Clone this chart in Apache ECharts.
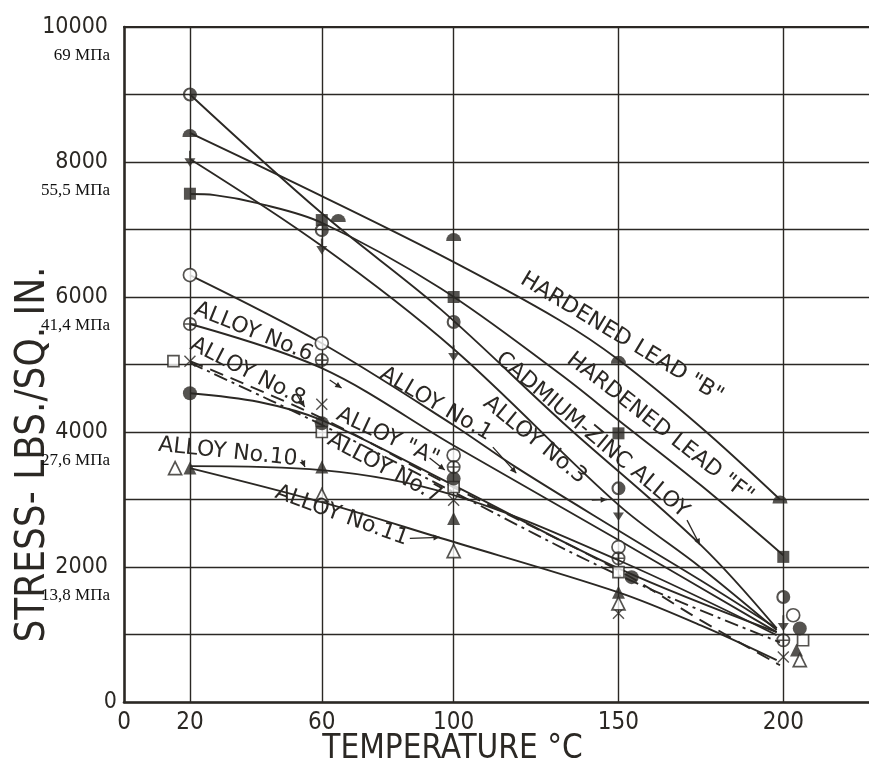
<!DOCTYPE html>
<html>
<head>
<meta charset="utf-8">
<script src="https://cdn.jsdelivr.net/npm/echarts@6/dist/echarts.min.js"></script>
<style>
html,body{margin:0;padding:0;background:#ffffff;}
#chart{width:869px;height:765px;}
</style>
</head>
<body>
<div id="chart"></div>
<script>
// ---------- axis data ----------
const tempLabels = [0, 20, 60, 100, 150, 200];
const tempGrid = [20, 60, 100, 150, 200];
const stressLabels = [0, 2000, 4000, 6000, 8000, 10000];
const mpaLabels = ['', '13,8 МПа', '27,6 МПа', '41,4 МПа', '55,5 МПа', '69 МПа'];

// ---------- measured points (temperature °C, stress psi) ----------
const leadBPts   = [[20,8430],[65,7170],[100,6890],[150,5070],[199,3000]];
const leadFPts   = [[20,7530],[60,7140],[100,6000],[150,3980],[200,2150]];
const cdZnPts    = [[20,9000],[60,6990],[100,5630],[150,3165],[200,1555]];
const alloy3Pts  = [[20,8050],[60,6750],[100,5165],[150,2800],[200,1165]];
const alloy1Pts  = [[20,6325],[60,5315],[100,3655],[150,2295],[203,1285]];
const alloy6Pts  = [[20,5600],[60,5065],[100,3480],[150,2130],[200,915]];
const alloyAPts  = [[15,5050],[60,4000],[100,3185],[150,1925],[206,915]];
const alloy8Pts  = [[20,5050],[60,4410],[100,2990],[150,1315],[200,665]];
const alloy7Pts  = [[20,4575],[60,4130],[100,3310],[154,1850],[205,1090]];
const alloy10Pts = [[20,3465],[60,3480],[100,2720],[150,1625],[204,770]];
const alloy11Pts = [[15.5,3465],[60,3065],[100,2235],[150,1460],[205,620]];

// ---------- fitted curves ----------
const leadBCurve   = [[20,8430],[53,7660],[96,6620],[132,5660],[150,5070],[175,4070],[199,3000]];
const leadFCurve   = [[20,7525],[27.5,7510],[40.5,7390],[60,7100],[96,6130],[132,4870],[150,4175],[175,3210],[200,2175]];
const cdZnCurve    = [[20,9000],[60,7240],[96,5820],[133,4145],[175,2325],[198,1090]];
const alloy3Curve  = [[20,8045],[60,6755],[100,5230],[150,2920],[175,1990],[198,1065]];
const alloy1Curve  = [[20,6325],[60,5315],[100,4100],[118.5,3490],[150,2540],[175,1800],[198,1090]];
const alloy6Curve  = [[20,5600],[60,4945],[100,3800],[150,2400],[198,1035]];
const alloy8Curve  = [[20,5050],[60,4205],[100,3180],[150,1950],[175,1210],[199,545]];
const alloyACurve  = [[20,5025],[60,4105],[100,3110],[150,1880],[199,885]];
const alloy7Curve  = [[20,4575],[41,4445],[60,4175],[100,3210],[150,1980],[198,1035]];
const alloy10Curve = [[20,3495],[60,3435],[100,3065],[150,2100],[198,990]];
const alloy11Curve = [[20,3465],[60,2960],[96,2430],[150,1625],[175,1135],[198,620]];

// ---------- annotation text (anchor in data coords, angle in degrees) ----------
const notes = [
  {text:'HARDENED LEAD "B"', at:[151,5395], angle:31},
  {text:'HARDENED LEAD "F"', at:[162.6,4060], angle:38},
  {text:'CADMIUM-ZINC ALLOY', at:[142,3955], angle:40},
  {text:'ALLOY No.3', at:[124.6,3880], angle:39},
  {text:'ALLOY No.1', at:[94.6,4415], angle:30},
  {text:'ALLOY No.6', at:[39.3,5480], angle:22},
  {text:'ALLOY No.8', at:[37.5,4890], angle:27},
  {text:'ALLOY "A"', at:[80,3925], angle:25},
  {text:'ALLOY No.7', at:[79,3465], angle:28},
  {text:'ALLOY No.10', at:[31.5,3700], angle:6},
  {text:'ALLOY No.11', at:[66,2760], angle:20}
];
const arrows = [
  {from:[170.8,2695], to:[174.7,2325]},
  {from:[141.9,2991], to:[146.5,3000]},
  {from:[111.9,3776], to:[119,3390]},
  {from:[52.4,4555], to:[54.8,4370]},
  {from:[86.7,2425], to:[95.8,2440]},
  {from:[53.9,3590], to:[54.9,3480]},
  {from:[62.4,4770], to:[66,4652]},
  {from:[92.7,3615], to:[97.3,3437]}
];

const INK = '#2b2824';
const LBL_FONT = "'DejaVu Sans Condensed','DejaVu Sans',sans-serif";

// symbols
const SYM = {
  dome: 'path://M-10,0 A10,10 0 0,1 10,0 Z',
  half: 'path://M0,-10 A10,10 0 1,1 0,10 A10,10 0 1,1 0,-10 Z M0,-7 A7,7 0 1,0 0,7 A7,7 0 1,0 0,-7 Z M0,-7 A7,7 0 0,1 0,7 Z',
  spade: 'path://M-6,0 L6,0 L0,9 Z M-1,-8 L1,-8 L1,0.5 L-1,0.5 Z',
  cross: 'path://M-6,-5 L-5,-6 L6,5 L5,6 Z M5,-6 L6,-5 L-5,6 L-6,5 Z',
  plusCircle: 'path://M0,-10 A10,10 0 1,1 0,10 A10,10 0 1,1 0,-10 Z M0,-7.6 A7.6,7.6 0 1,0 0,7.6 A7.6,7.6 0 1,0 0,-7.6 Z M-8,-1.1 L8,-1.1 L8,1.1 L-8,1.1 Z M-1.1,-8 L1.1,-8 L1.1,8 L-1.1,8 Z'
};

function curve(name, data, dash) {
  return {
    name: name + ' curve', type: 'line', data: data, smooth: 0.35, showSymbol: false,
    lineStyle: {color: INK, width: 1.9, type: dash || 'solid'}, z: 3, silent: true
  };
}
function pts(name, data, symbol, size, open) {
  return {
    name: name, type: 'scatter', data: data, symbol: symbol, symbolSize: size,
    itemStyle: open ? {color: '#ffffff', borderColor: INK, borderWidth: 1.7} : {color: INK},
    z: 5
  };
}

const chart = echarts.init(document.getElementById('chart'), null, {renderer: 'canvas'});

const series = [
  Object.assign(curve('Hardened lead B', leadBCurve), {
    markLine: {
      symbol: 'none', silent: true, label: {show: false},
      lineStyle: {color: INK, width: 1.4, type: 'solid'},
      data: tempGrid.map(t => ({xAxis: t}))
    }
  }),
  curve('Hardened lead F', leadFCurve),
  curve('Cadmium-zinc', cdZnCurve),
  curve('Alloy No.3', alloy3Curve),
  curve('Alloy No.1', alloy1Curve),
  curve('Alloy No.6', alloy6Curve),
  curve('Alloy No.8', alloy8Curve, [14, 8]),
  curve('Alloy A', alloyACurve, [14, 5, 3, 5]),
  curve('Alloy No.7', alloy7Curve),
  curve('Alloy No.10', alloy10Curve),
  curve('Alloy No.11', alloy11Curve),
  pts('Hardened lead B', leadBPts, SYM.dome, [15, 8]),
  pts('Hardened lead F', leadFPts, 'rect', 12),
  pts('Cadmium-zinc', cdZnPts, SYM.half, 14),
  pts('Alloy No.3', alloy3Pts, SYM.spade, [11, 16]),
  pts('Alloy No.1', alloy1Pts, 'circle', 13, true),
  pts('Alloy No.6', alloy6Pts, SYM.plusCircle, 14),
  pts('Alloy A', alloyAPts, 'rect', 11, true),
  pts('Alloy No.8', alloy8Pts, SYM.cross, 12),
  pts('Alloy No.7', alloy7Pts, 'circle', 14),
  pts('Alloy No.10', alloy10Pts, 'triangle', 13),
  pts('Alloy No.11', alloy11Pts, 'triangle', 13, true)
];

chart.setOption({
  animation: false,
  backgroundColor: '#ffffff',
  grid: {left: 124, right: 0, top: 27, bottom: 63, containLabel: false, outerBoundsMode: 'none'},
  xAxis: [{
    type: 'value', min: 0, max: 226, interval: 10,
    name: 'TEMPERATURE °C', nameLocation: 'middle', nameGap: 31, nameMoveOverlap: false,
    nameTextStyle: {fontFamily: LBL_FONT, fontSize: 33, color: INK, padding: [0, 88, 0, 0]},
    axisLine: {show: true, lineStyle: {color: INK, width: 2.6}},
    axisTick: {show: false},
    splitLine: {show: false},
    axisLabel: {
      fontFamily: LBL_FONT, fontSize: 24, color: INK, margin: 9, showMaxLabel: false,
      formatter: v => tempLabels.indexOf(v) >= 0 ? String(v) : ''
    }
  }, {
    type: 'value', position: 'top', min: 0, max: 226,
    axisLine: {show: true, lineStyle: {color: INK, width: 2.2}},
    axisTick: {show: false}, axisLabel: {show: false}, splitLine: {show: false}
  }],
  yAxis: {
    type: 'value', min: 0, max: 10000, interval: 1000,
    name: 'STRESS- LBS./SQ. IN.', nameLocation: 'middle', nameGap: 70, nameRotate: 90, nameMoveOverlap: false,
    nameTextStyle: {fontFamily: LBL_FONT, fontSize: 40, color: INK, padding: [0, 180, 0, 0]},
    axisLine: {show: true, lineStyle: {color: INK, width: 2.6}},
    axisTick: {show: false},
    splitLine: {show: true, lineStyle: {color: INK, width: 1.4}},
    axisLabel: {
      margin: 16, color: INK, align: 'right',
      formatter: function (v) {
        const i = stressLabels.indexOf(v);
        if (i < 0) return '';
        if (v === 0) return '{z|0}';
        return '{e| }\n{n|' + v + '}\n{m|' + mpaLabels[i] + '}';
      },
      rich: {
        n: {fontFamily: LBL_FONT, fontSize: 23, color: INK, lineHeight: 26, align: 'right'},
        m: {fontFamily: "'Liberation Serif','Times New Roman',serif", fontSize: 17, color: '#111', lineHeight: 32, align: 'right', padding: [0, -2, 0, 0]},
        e: {fontSize: 10, lineHeight: 32, align: 'right'},
        z: {fontFamily: LBL_FONT, fontSize: 23, color: INK, align: 'right', padding: [0, -9, 0, 0]}
      }
    }
  },
  series: series
});

// annotations placed through the chart's own coordinate conversion
function px(p) { return chart.convertToPixel({xAxisIndex: 0, yAxisIndex: 0}, p); }
const graphics = [];
notes.forEach(n => {
  const c = px(n.at);
  graphics.push({
    type: 'text', x: c[0], y: c[1], rotation: -n.angle * Math.PI / 180, z: 10,
    style: {text: n.text, fill: INK, font: "22px 'DejaVu Sans',sans-serif", align: 'center', verticalAlign: 'middle'}
  });
});
arrows.forEach(a => {
  const p1 = px(a.from), p2 = px(a.to);
  const ang = Math.atan2(p2[1] - p1[1], p2[0] - p1[0]);
  const L = 7, W = 0.45;
  graphics.push({type: 'line', z: 10, shape: {x1: p1[0], y1: p1[1], x2: p2[0], y2: p2[1]}, style: {stroke: INK, lineWidth: 1.3}});
  graphics.push({type: 'polygon', z: 10, shape: {points: [
    [p2[0], p2[1]],
    [p2[0] - L * Math.cos(ang - W), p2[1] - L * Math.sin(ang - W)],
    [p2[0] - L * Math.cos(ang + W), p2[1] - L * Math.sin(ang + W)]
  ]}, style: {fill: INK}});
});
chart.setOption({graphic: graphics});
</script>
</body>
</html>
